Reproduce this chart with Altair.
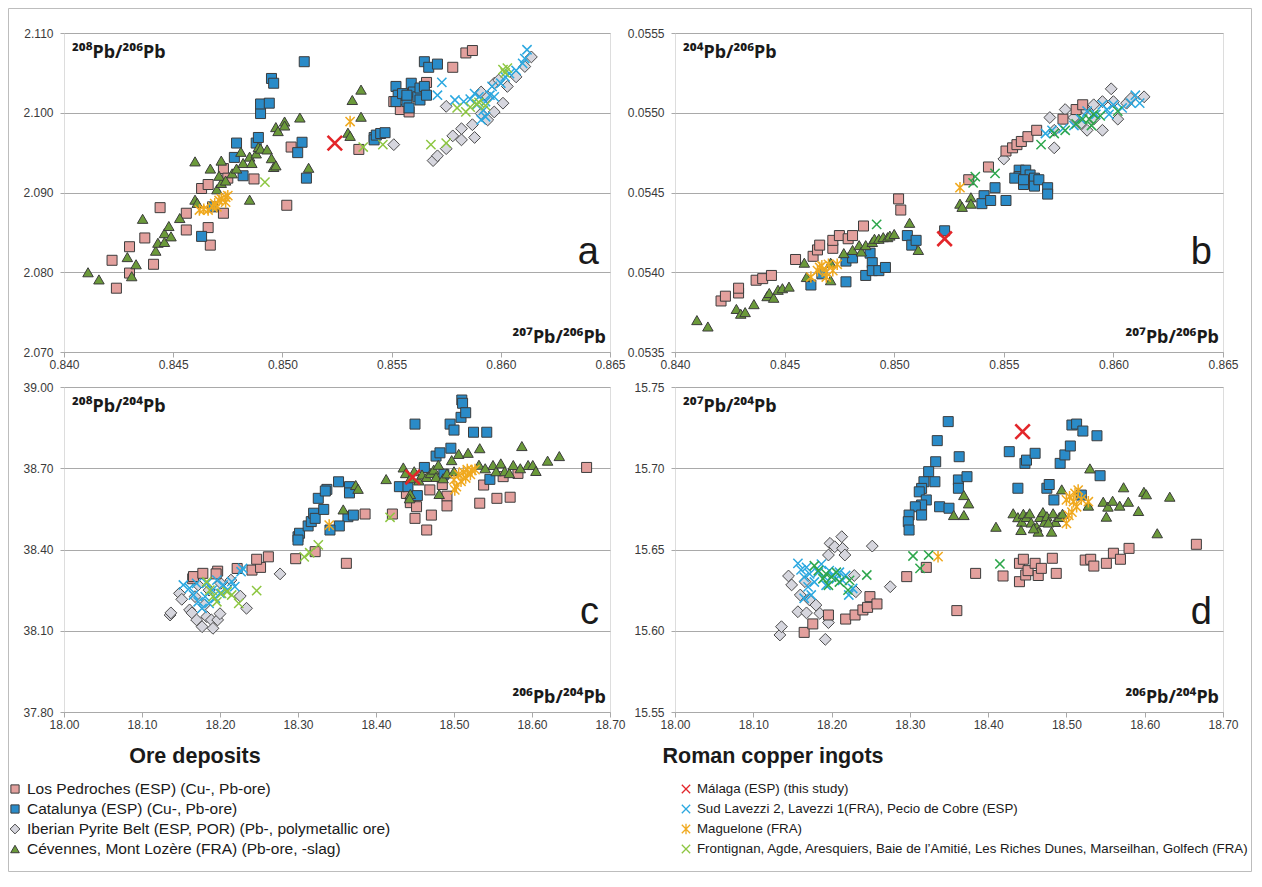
import altair as alt
import pandas as pd

# ---------------- data ----------------
# Panel a: 207Pb/206Pb (x) vs 208Pb/206Pb (y)
A_LP = [(0.8424,2.0780),(0.8422,2.0815),(0.8430,2.0832),(0.8430,2.0799),(0.8437,2.0843),(0.8441,2.0810),(0.8444,2.0881),(0.8456,2.0874),(0.8456,2.0853),(0.8463,2.0905),(0.8466,2.0910),(0.8466,2.0856),(0.8467,2.0834),(0.8473,2.0874),(0.8473,2.0930),(0.8475,2.0918),(0.8487,2.0917),(0.8502,2.0884),(0.8504,2.0957),(0.8535,2.0954),(0.8551,2.1014),(0.8554,2.1004),(0.8558,2.1001),(0.8566,2.1038),(0.8578,2.1057),(0.8584,2.1075),(0.8587,2.1078)]
A_CAT = [(0.8463,2.0845),(0.8468,2.0882),(0.8479,2.0962),(0.8478,2.0944),(0.8482,2.0921),(0.8488,2.0962),(0.8489,2.0969),(0.8490,2.0999),(0.8490,2.1011),(0.8494,2.1012),(0.8495,2.1043),(0.8496,2.1037),(0.8507,2.0950),(0.8509,2.0963),(0.8511,2.0918),(0.8510,2.1064),(0.8542,2.0969),(0.8542,2.0966),(0.8543,2.0972),(0.8545,2.0974),(0.8547,2.0975),(0.8552,2.1033),(0.8553,2.1022),(0.8552,2.1014),(0.8555,2.1024),(0.8557,2.1014),(0.8559,2.1037),(0.8558,2.1006),(0.8560,2.1026),(0.8562,2.1020),(0.8563,2.1031),(0.8563,2.1016),(0.8565,2.1033),(0.8566,2.1022),(0.8557,2.1022),(0.8565,2.1064),(0.8567,2.1057),(0.8571,2.1061)]
A_IPB = [(0.8551,2.0960),(0.8569,2.0940),(0.8571,2.0946),(0.8575,2.0955),(0.8575,2.1008),(0.8578,2.0971),(0.8582,2.0980),(0.8582,2.0966),(0.8588,2.0969),(0.8587,2.0985),(0.8591,2.1026),(0.8594,2.0991),(0.8597,2.1001),(0.8597,2.1037),(0.8601,2.1012),(0.8603,2.1033),(0.8599,2.1041),(0.8607,2.1045),(0.8611,2.1058),(0.8614,2.1070),(0.8594,2.1020),(0.8591,2.0999)]
A_CEV = [(0.8411,2.0800),(0.8416,2.0791),(0.8429,2.0819),(0.8431,2.0795),(0.8433,2.0810),(0.8436,2.0867),(0.8442,2.0827),(0.8443,2.0837),(0.8446,2.0849),(0.8446,2.0838),(0.8448,2.0858),(0.8449,2.0845),(0.8453,2.0868),(0.8460,2.0939),(0.8460,2.0891),(0.8461,2.0887),(0.8467,2.0930),(0.8470,2.0904),(0.8472,2.0940),(0.8472,2.0912),(0.8471,2.0921),(0.8474,2.0915),(0.8477,2.0924),(0.8479,2.0930),(0.8481,2.0951),(0.8482,2.0937),(0.8485,2.0945),(0.8486,2.0937),(0.8488,2.0949),(0.8489,2.0957),(0.8490,2.0955),(0.8493,2.0954),(0.8495,2.0943),(0.8496,2.0932),(0.8497,2.0934),(0.8485,2.0891),(0.8497,2.0982),(0.8498,2.0977),(0.8501,2.0989),(0.8501,2.0984),(0.8508,2.0994),(0.8512,2.0931),(0.8530,2.0975),(0.8531,2.0971),(0.8536,2.1029),(0.8532,2.1016),(0.8536,2.0995)]
A_MAL = [(0.8524,2.0962)]
A_SLV = [(0.8573,2.1038),(0.8571,2.1022),(0.8579,2.1016),(0.8583,2.1014),(0.8586,2.1017),(0.8588,2.1024),(0.8589,2.1010),(0.8590,2.1020),(0.8592,2.1003),(0.8593,2.1014),(0.8595,2.1022),(0.8596,2.1033),(0.8597,2.1020),(0.8600,2.1037),(0.8602,2.1045),(0.8604,2.1049),(0.8607,2.1053),(0.8610,2.1062),(0.8611,2.1068),(0.8612,2.1079),(0.8591,2.0991),(0.8593,2.0995)]
A_MAG = [(0.8462,2.0878),(0.8464,2.0879),(0.8466,2.0878),(0.8468,2.0882),(0.8469,2.0886),(0.8471,2.0890),(0.8472,2.0892),(0.8474,2.0894),(0.8474,2.0888),(0.8470,2.0882),(0.8475,2.0896),(0.8531,2.0989)]
A_FRO = [(0.8492,2.0913),(0.8537,2.0957),(0.8546,2.0960),(0.8568,2.0960),(0.8575,2.0962),(0.8580,2.1006),(0.8584,2.1001),(0.8586,2.1007),(0.8589,2.1011),(0.8590,2.1013),(0.8593,2.1009),(0.8601,2.1054),(0.8603,2.1056),(0.8602,2.1050)]

# Panel b: 207Pb/206Pb (x) vs 204Pb/206Pb (y)
B_LP = [(0.8421,0.05382),(0.8423,0.05385),(0.8429,0.05387),(0.8429,0.05390),(0.8437,0.05395),(0.8440,0.05396),(0.8444,0.05398),(0.8455,0.05408),(0.8463,0.05410),(0.8465,0.05414),(0.8466,0.05417),(0.8472,0.05415),(0.8472,0.05420),(0.8475,0.05423),(0.8479,0.05421),(0.8481,0.05423),(0.8486,0.05429),(0.8502,0.05446),(0.8503,0.05439),(0.8534,0.05458),(0.8543,0.05466),(0.8551,0.05476),(0.8554,0.05478),(0.8556,0.05480),(0.8558,0.05482),(0.8561,0.05485),(0.8565,0.05489),(0.8577,0.05496),(0.8583,0.05502),(0.8586,0.05505)]
B_CAT = [(0.8462,0.05392),(0.8467,0.05399),(0.8478,0.05394),(0.8478,0.05407),(0.8481,0.05409),(0.8487,0.05398),(0.8489,0.05412),(0.8490,0.05406),(0.8490,0.05401),(0.8493,0.05401),(0.8496,0.05403),(0.8506,0.05423),(0.8508,0.05417),(0.8510,0.05420),(0.8523,0.05426),(0.8541,0.05448),(0.8540,0.05443),(0.8544,0.05445),(0.8546,0.05453),(0.8551,0.05445),(0.8557,0.05464),(0.8557,0.05460),(0.8559,0.05455),(0.8560,0.05464),(0.8562,0.05461),(0.8564,0.05459),(0.8564,0.05454),(0.8566,0.05458),(0.8570,0.05453),(0.8570,0.05449),(0.8555,0.05459),(0.8559,0.05458)]
B_IPB = [(0.8550,0.05471),(0.8573,0.05478),(0.8571,0.05497),(0.8573,0.05489),(0.8578,0.05502),(0.8587,0.05502),(0.8591,0.05505),(0.8588,0.05489),(0.8591,0.05496),(0.8595,0.05489),(0.8595,0.05507),(0.8599,0.05515),(0.8600,0.05507),(0.8602,0.05496),(0.8606,0.05506),(0.8608,0.05509),(0.8614,0.05510),(0.8585,0.05493),(0.8582,0.05497)]
B_CEV = [(0.8410,0.05370),(0.8415,0.05366),(0.8428,0.05377),(0.8430,0.05374),(0.8432,0.05375),(0.8436,0.05380),(0.8442,0.05385),(0.8443,0.05387),(0.8445,0.05384),(0.8447,0.05389),(0.8449,0.05390),(0.8452,0.05391),(0.8459,0.05406),(0.8460,0.05397),(0.8471,0.05395),(0.8471,0.05406),(0.8477,0.05412),(0.8481,0.05414),(0.8484,0.05417),(0.8485,0.05413),(0.8487,0.05417),(0.8490,0.05419),(0.8491,0.05421),(0.8493,0.05421),(0.8495,0.05422),(0.8497,0.05422),(0.8498,0.05423),(0.8500,0.05424),(0.8507,0.05431),(0.8511,0.05414),(0.8530,0.05443),(0.8531,0.05441),(0.8535,0.05447),(0.8535,0.05443)]
B_MAL = [(0.8523,0.05421)]
B_SLV = [(0.8569,0.05487),(0.8572,0.05489),(0.8577,0.05490),(0.8582,0.05492),(0.8585,0.05496),(0.8588,0.05501),(0.8592,0.05499),(0.8595,0.05505),(0.8597,0.05502),(0.8600,0.05505),(0.8604,0.05503),(0.8608,0.05506),(0.8610,0.05511),(0.8612,0.05506),(0.8598,0.05499)]
B_MAG = [(0.8462,0.05397),(0.8465,0.05401),(0.8467,0.05404),(0.8469,0.05400),(0.8470,0.05405),(0.8472,0.05401),(0.8474,0.05405),(0.8469,0.05397),(0.8466,0.05403),(0.8530,0.05453)]
B_FRO = [(0.8492,0.05430),(0.8537,0.05460),(0.8536,0.05456),(0.8546,0.05462),(0.8567,0.05480),(0.8573,0.05487),(0.8578,0.05489),(0.8583,0.05493),(0.8586,0.05496),(0.8589,0.05496),(0.8591,0.05499),(0.8590,0.05492),(0.8602,0.05501),(0.8594,0.05498)]

# Panel c: 206Pb/204Pb (x) vs 208Pb/204Pb (y)
C_LP = [(18.165,38.292),(18.166,38.300),(18.178,38.312),(18.197,38.320),(18.195,38.310),(18.222,38.330),(18.241,38.324),(18.252,38.334),(18.247,38.364),(18.262,38.373),(18.297,38.366),(18.322,38.392),(18.362,38.349),(18.386,38.531),(18.421,38.531),(18.439,38.607),(18.444,38.573),(18.450,38.515),(18.452,38.558),(18.465,38.472),(18.469,38.620),(18.471,38.527),(18.485,38.640),(18.491,38.597),(18.491,38.561),(18.533,38.571),(18.538,38.638),(18.555,38.589),(18.563,38.669),(18.572,38.593),(18.582,38.681),(18.670,38.703)]
C_CAT = [(18.300,38.447),(18.302,38.460),(18.300,38.435),(18.313,38.487),(18.317,38.503),(18.320,38.534),(18.322,38.515),(18.326,38.589),(18.333,38.548),(18.337,38.622),(18.335,38.616),(18.352,38.650),(18.366,38.632),(18.366,38.609),(18.364,38.521),(18.371,38.527),(18.353,38.487),(18.341,38.472),(18.430,38.632),(18.441,38.632),(18.453,38.599),(18.450,38.863),(18.462,38.703),(18.477,38.745),(18.482,38.757),(18.487,38.678),(18.496,38.774),(18.495,38.863),(18.500,38.841),(18.509,38.888),(18.510,38.952),(18.511,38.940),(18.515,38.905),(18.525,38.833),(18.542,38.833),(18.546,38.659)]
C_IPB = [(18.136,38.158),(18.137,38.166),(18.148,38.238),(18.151,38.216),(18.161,38.177),(18.164,38.166),(18.170,38.140),(18.177,38.115),(18.183,38.152),(18.189,38.140),(18.191,38.109),(18.197,38.140),(18.180,38.195),(18.168,38.226),(18.226,38.228),(18.234,38.183),(18.277,38.310),(18.172,38.269),(18.200,38.163),(18.201,38.275),(18.214,38.287),(18.186,38.250)]
C_CEV = [(18.358,38.548),(18.374,38.638),(18.377,38.624),(18.413,38.660),(18.435,38.703),(18.438,38.682),(18.444,38.663),(18.449,38.689),(18.455,38.655),(18.459,38.677),(18.465,38.668),(18.470,38.682),(18.474,38.695),(18.477,38.668),(18.480,38.713),(18.481,38.605),(18.486,38.663),(18.491,38.681),(18.497,38.730),(18.500,38.689),(18.506,38.753),(18.518,38.757),(18.533,38.774),(18.532,38.713),(18.550,38.712),(18.554,38.689),(18.560,38.718),(18.565,38.689),(18.571,38.682),(18.576,38.712),(18.587,38.782),(18.595,38.712),(18.601,38.712),(18.605,38.690),(18.620,38.728),(18.635,38.745),(18.444,38.605),(18.443,38.589),(18.540,38.700),(18.585,38.700)]
C_MAL = [(18.447,38.667)]
C_SLV = [(18.153,38.269),(18.161,38.257),(18.166,38.232),(18.172,38.207),(18.177,38.183),(18.181,38.226),(18.186,38.201),(18.190,38.250),(18.194,38.220),(18.200,38.238),(18.204,38.269),(18.209,38.250),(18.215,38.281),(18.219,38.263),(18.227,38.318),(18.170,38.275),(18.183,38.275),(18.196,38.287),(18.229,38.330)]
C_MAG = [(18.340,38.490),(18.500,38.657),(18.503,38.632),(18.506,38.677),(18.509,38.652),(18.512,38.686),(18.515,38.664),(18.517,38.695),(18.521,38.677),(18.523,38.692),(18.527,38.695),(18.501,38.620)]
C_FRO = [(18.183,38.281),(18.191,38.226),(18.196,38.207),(18.202,38.238),(18.209,38.244),(18.215,38.232),(18.224,38.201),(18.247,38.248),(18.187,38.250),(18.308,38.373),(18.315,38.388),(18.326,38.417),(18.418,38.519)]

# Panel d: 206Pb/204Pb (x) vs 207Pb/204Pb (y)
D_LP = [(18.165,15.5990),(18.176,15.6042),(18.196,15.6097),(18.218,15.6072),(18.230,15.6097),(18.240,15.6128),(18.246,15.6144),(18.249,15.6210),(18.258,15.6165),(18.296,15.6333),(18.321,15.6390),(18.360,15.6124),(18.384,15.6353),(18.419,15.6337),(18.440,15.6415),(18.445,15.6440),(18.440,15.6302),(18.448,15.6343),(18.451,15.6370),(18.460,15.6415),(18.464,15.6340),(18.468,15.6384),(18.482,15.6446),(18.487,15.6353),(18.524,15.6435),(18.531,15.6440),(18.535,15.6398),(18.551,15.6415),(18.560,15.6477),(18.569,15.6440),(18.580,15.6507),(18.666,15.6532)]
D_CAT = [(18.349,15.7287),(18.335,15.7170),(18.333,15.7040),(18.324,15.6979),(18.318,15.6917),(18.332,15.6917),(18.315,15.6876),(18.312,15.6855),(18.321,15.6805),(18.315,15.6774),(18.307,15.6763),(18.315,15.6712),(18.299,15.6712),(18.298,15.6671),(18.299,15.6620),(18.338,15.6763),(18.350,15.6754),(18.363,15.7071),(18.362,15.6928),(18.373,15.6948),(18.362,15.6877),(18.427,15.7102),(18.447,15.7030),(18.449,15.7050),(18.460,15.7092),(18.438,15.6877),(18.475,15.6877),(18.478,15.6900),(18.484,15.6805),(18.492,15.7030),(18.498,15.7082),(18.505,15.7137),(18.507,15.7266),(18.513,15.7272),(18.521,15.7229),(18.539,15.7200),(18.543,15.6954),(18.519,15.6835)]
D_IPB = [(18.134,15.5974),(18.136,15.6025),(18.145,15.6337),(18.149,15.6282),(18.160,15.6220),(18.157,15.6117),(18.166,15.6302),(18.168,15.6110),(18.172,15.6189),(18.180,15.6158),(18.185,15.6107),(18.192,15.5947),(18.196,15.6050),(18.196,15.6466),(18.198,15.6538),(18.204,15.6517),(18.213,15.6579),(18.214,15.6507),(18.217,15.6466),(18.231,15.6240),(18.229,15.6340),(18.252,15.6521),(18.275,15.6271)]
D_CEV = [(18.369,15.6835),(18.375,15.6784),(18.356,15.6712),(18.369,15.6712),(18.410,15.6640),(18.432,15.6723),(18.438,15.6699),(18.443,15.6671),(18.445,15.6720),(18.449,15.6700),(18.453,15.6723),(18.455,15.6666),(18.462,15.6640),(18.464,15.6610),(18.466,15.6700),(18.470,15.6730),(18.472,15.6670),(18.475,15.6705),(18.481,15.6610),(18.483,15.6723),(18.486,15.6670),(18.491,15.6700),(18.495,15.6720),(18.442,15.6620),(18.458,15.6630),(18.477,15.6666),(18.494,15.6870),(18.530,15.6999),(18.528,15.6770),(18.547,15.6794),(18.553,15.6764),(18.551,15.6702),(18.559,15.6800),(18.568,15.6770),(18.573,15.6883),(18.579,15.6794),(18.592,15.6737),(18.599,15.6855),(18.602,15.6840),(18.616,15.6600),(18.632,15.6825)]
D_MAL = [(18.444,15.7225)]
D_SLV = [(18.157,15.6415),(18.161,15.6375),(18.165,15.6330),(18.168,15.6390),(18.172,15.6350),(18.170,15.6270),(18.174,15.6220),(18.178,15.6300),(18.183,15.6360),(18.187,15.6410),(18.191,15.6330),(18.193,15.6280),(18.197,15.6370),(18.201,15.6340),(18.206,15.6320),(18.210,15.6360),(18.214,15.6310),(18.218,15.6340),(18.222,15.6220),(18.227,15.6260),(18.165,15.6200)]
D_MAG = [(18.336,15.6456),(18.500,15.6805),(18.504,15.6825),(18.509,15.6794),(18.511,15.6845),(18.515,15.6866),(18.513,15.6763),(18.507,15.6730),(18.503,15.6710),(18.500,15.6661),(18.528,15.6794),(18.519,15.6810)]
D_FRO = [(18.304,15.6460),(18.324,15.6466),(18.313,15.6384),(18.245,15.6343),(18.415,15.6411),(18.178,15.6400),(18.183,15.6370),(18.189,15.6320),(18.193,15.6350),(18.196,15.6280),(18.200,15.6330),(18.206,15.6360),(18.210,15.6300),(18.221,15.6250),(18.223,15.6310)]

# Axis ticks
X_TICKS_AB = [0.840, 0.845, 0.850, 0.855, 0.860, 0.865]
Y_TICKS_A = [2.070, 2.080, 2.090, 2.100, 2.110]
Y_TICKS_B = [0.0535, 0.0540, 0.0545, 0.0550, 0.0555]
X_TICKS_CD = [18.00, 18.10, 18.20, 18.30, 18.40, 18.50, 18.60, 18.70]
Y_TICKS_C = [37.80, 38.10, 38.40, 38.70, 39.00]
Y_TICKS_D = [15.55, 15.60, 15.65, 15.70, 15.75]

ORE_NAMES = ["Los Pedroches (ESP) (Cu-, Pb-ore)",
             "Catalunya (ESP) (Cu-, Pb-ore)",
             "Iberian Pyrite Belt (ESP, POR) (Pb-, polymetallic ore)",
             "Cévennes, Mont Lozère (FRA) (Pb-ore, -slag)"]
INGOT_NAMES = ["Málaga (ESP) (this study)",
               "Sud Lavezzi 2, Lavezzi 1(FRA), Pecio de Cobre (ESP)",
               "Maguelone (FRA)",
               "Frontignan, Agde, Aresquiers, Baie de l’Amitié, Les Riches Dunes, Marseilhan, Golfech (FRA)"]

# ---------------- styles ----------------
GRID = "#A9A9A9"
LABEL_C = "#3a3a3a"
OUT = "#3c3c3c"
X_PATH = "M-1,-1L1,1M-1,1L1,-1"
AST_PATH = "M-1,-1L1,1M-1,1L1,-1M0,-1.25L0,1.25"
LIME = "#8DC641"
DKGREEN = "#2DA64B"

def style(key, fro_color=LIME, legend=False):
    k = 0.68 if legend else 1.0
    s = {
        "lp": dict(shape="square", filled=True, fill="#E3A09D", stroke=OUT, strokeWidth=1, size=100 * k),
        "cat": dict(shape="square", filled=True, fill="#2A8BC8", stroke=OUT, strokeWidth=1, size=100 * k),
        "ipb": dict(shape="diamond", filled=True, fill="#D6D6DE", stroke="#4a4a4a", strokeWidth=1, size=140 * k),
        "cev": dict(shape="triangle-up", filled=True, fill="#6B9A3A", stroke=OUT, strokeWidth=1, size=110 * k),
        "mal": dict(shape=X_PATH, filled=False, stroke="#E3262A", strokeWidth=1.3 if legend else 2.6, size=70 if legend else 210),
        "slv": dict(shape=X_PATH, filled=False, stroke="#2BA8E0", strokeWidth=1.3 if legend else 1.5, size=70 if legend else 85),
        "mag": dict(shape=AST_PATH, filled=False, stroke="#F0A91E", strokeWidth=1.3 if legend else 1.5, size=70 if legend else 85),
        "fro": dict(shape=X_PATH, filled=False, stroke=fro_color, strokeWidth=1.3 if legend else 1.5, size=70 if legend else 85),
    }[key]
    return s

ORDER = ["ipb", "lp", "cat", "cev", "slv", "fro", "mag", "mal"]

def panel(data, xdom, xticks, xfmt, ydom, yticks, yfmt, top_lbl, bot_lbl, letter, w, h, fro_color):
    xs = alt.Scale(domain=xdom, nice=False, zero=False)
    ys = alt.Scale(domain=ydom, nice=False, zero=False)
    xa = alt.Axis(values=xticks, format=xfmt, title=None, grid=False, domain=True,
                  domainColor=GRID, ticks=True, tickColor=GRID, tickSize=5, labelPadding=2,
                  labelFlush=False, labelFontSize=12, labelColor=LABEL_C, labelFont="Liberation Sans")
    ya = alt.Axis(values=yticks, format=yfmt, title=None, grid=True, gridColor=GRID, domain=False,
                  ticks=True, tickColor=GRID, tickSize=4, labelPadding=7, labelFontSize=12,
                  labelColor=LABEL_C, labelFont="Liberation Sans")
    layers = []
    for key in ORDER:
        df = pd.DataFrame(data[key], columns=["x", "y"])
        layers.append(alt.Chart(df).mark_point(opacity=1, **style(key, fro_color)).encode(
            x=alt.X("x:Q", scale=xs, axis=xa), y=alt.Y("y:Q", scale=ys, axis=ya)))
    one = pd.DataFrame({"t": [0]})
    layers.append(alt.Chart(one).mark_text(text=top_lbl, font="Noto Sans", fontWeight="bold", fontSize=18,
                                           align="left", baseline="alphabetic", color="#1a1a1a")
                  .encode(x=alt.value(8), y=alt.value(25)))
    layers.append(alt.Chart(one).mark_text(text=bot_lbl, font="Noto Sans", fontWeight="bold", fontSize=18,
                                           align="right", baseline="alphabetic", color="#1a1a1a")
                  .encode(x=alt.value(w - 4), y=alt.value(h - 9)))
    layers.append(alt.Chart(one).mark_text(text=letter, font="Liberation Sans", fontSize=38,
                                           align="right", baseline="alphabetic", color="#1a1a1a")
                  .encode(x=alt.value(w - 11), y=alt.value(h - 88)))
    return alt.layer(*layers).properties(width=w, height=h)

def pack(lp, cat, ipb, cev, mal, slv, mag, fro):
    return dict(lp=lp, cat=cat, ipb=ipb, cev=cev, mal=mal, slv=slv, mag=mag, fro=fro)

pa = panel(pack(A_LP, A_CAT, A_IPB, A_CEV, A_MAL, A_SLV, A_MAG, A_FRO), [0.840, 0.865], X_TICKS_AB, ".3f",
           [2.070, 2.110], Y_TICKS_A, ".3f", "²⁰⁸Pb/²⁰⁶Pb", "²⁰⁷Pb/²⁰⁶Pb", "a", 546, 319, LIME)
pb = panel(pack(B_LP, B_CAT, B_IPB, B_CEV, B_MAL, B_SLV, B_MAG, B_FRO), [0.840, 0.865], X_TICKS_AB, ".3f",
           [0.0535, 0.0555], Y_TICKS_B, ".4f", "²⁰⁴Pb/²⁰⁶Pb", "²⁰⁷Pb/²⁰⁶Pb", "b", 548, 319, DKGREEN)
pc = panel(pack(C_LP, C_CAT, C_IPB, C_CEV, C_MAL, C_SLV, C_MAG, C_FRO), [18.0, 18.7], X_TICKS_CD, ".2f",
           [37.8, 39.0], Y_TICKS_C, ".2f", "²⁰⁸Pb/²⁰⁴Pb", "²⁰⁶Pb/²⁰⁴Pb", "c", 546, 325, LIME)
pd_ = panel(pack(D_LP, D_CAT, D_IPB, D_CEV, D_MAL, D_SLV, D_MAG, D_FRO), [18.0, 18.7], X_TICKS_CD, ".2f",
            [15.55, 15.75], Y_TICKS_D, ".2f", "²⁰⁷Pb/²⁰⁴Pb", "²⁰⁶Pb/²⁰⁴Pb", "d", 548, 325, DKGREEN)

def legend_block(names, keys, heading, heading_x, marker_x, text_x, w, fsize, frame=False):
    rscale = alt.Scale(type="point", domain=[0, 1, 2, 3], range=[42, 102], padding=0)
    layers = []
    if frame:
        # thin figure frame around the whole composite (decoration)
        fdf = pd.DataFrame({"t": [0]})
        layers.append(alt.Chart(fdf).mark_rect(fill="transparent", stroke="#BDBDBD", strokeWidth=1).encode(
            x=alt.value(-55.5), x2=alt.value(1187.5), y=alt.value(-738.5), y2=alt.value(124.5)))
    for i, key in enumerate(keys):
        df = pd.DataFrame({"row": [i]})
        layers.append(alt.Chart(df).mark_point(opacity=1, **style(key, LIME, legend=True)).encode(
            x=alt.value(marker_x), y=alt.Y("row:O", scale=rscale, axis=None)))
    tdf = pd.DataFrame({"row": list(range(len(names))), "label": names})
    layers.append(alt.Chart(tdf).mark_text(align="left", baseline="middle", font="Liberation Sans",
                                           fontSize=fsize, color="#1a1a1a").encode(
        x=alt.value(text_x), y=alt.Y("row:O", scale=rscale, axis=None), text="label:N"))
    hdf = pd.DataFrame({"t": [heading]})
    layers.append(alt.Chart(hdf).mark_text(align="center", baseline="middle", font="Liberation Sans",
                                           fontWeight="bold", fontSize=21.5, color="#1a1a1a").encode(
        x=alt.value(heading_x), y=alt.value(10), text="t:N"))
    return alt.layer(*layers).properties(width=w, height=110, view=alt.ViewBackground(strokeOpacity=0))

legL = legend_block(ORE_NAMES, ["lp", "cat", "ipb", "cev"], "Ore deposits", 131, -49, -37, 546, 15.5, frame=True)
legR = legend_block(INGOT_NAMES, ["mal", "slv", "mag", "fro"], "Roman copper ingots", 98, 11, 22, 548, 13.3)

chart = alt.concat(pa, pb, pc, pd_, legL, legR, columns=2,
                   spacing={"row": 35, "column": 65}, bounds="flush", align="each").properties(
    padding={"left": 0, "top": 0, "right": 0, "bottom": 0}
).configure_view(stroke="#A6A6A6", strokeWidth=1).configure(font="Liberation Sans")

chart.save("out.html", embed_options={"renderer": "svg", "actions": False})
